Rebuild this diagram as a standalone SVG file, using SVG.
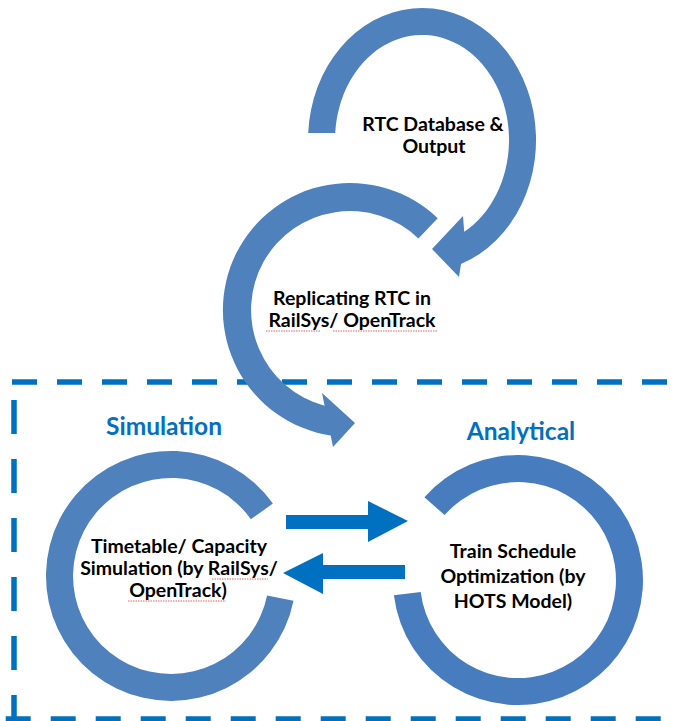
<svg xmlns="http://www.w3.org/2000/svg" width="676" height="721" viewBox="0 0 676 721">
  <style>
    .ring { fill: #4F81BD; }
    .ring-r { fill: #477DBE; }
    .txt { font-family: "Lato", "Liberation Sans", sans-serif; font-weight: bold; font-size: 19.5px; fill: #000; text-anchor: middle; }
    .lbl { font-family: "Lato", "Liberation Sans", sans-serif; font-weight: bold; font-size: 24.5px; fill: #0070C0; text-anchor: middle; }
    .flow { fill: #0070C0; }
    .frame { stroke: #0070C0; stroke-width: 5.5; fill: none; }
    .spell { stroke: #E46464; stroke-width: 1.2; stroke-dasharray: 1.5 1; fill: none; }
  </style>

  <!-- dashed boundary around the simulation / analytical loop -->
  <g id="boundary">
    <line class="frame" x1="12" y1="382" x2="676" y2="382" stroke-dasharray="25 20"/>
    <line class="frame" x1="5.7" y1="719" x2="676" y2="719" stroke-dasharray="25 20"/>
    <line class="frame" x1="14" y1="400" x2="14" y2="721" stroke-dasharray="34 25"/>
  </g>

  <!-- RTC Database & Output -->
  <g id="node-rtc-database">
    <path class="ring" d="M308.2,133 A114,132 0 1 1 461,264 L459,277 L432,249 L463,216 L464.2,231.8 A87,105 0 1 0 335.2,133 Z"/>
    <text class="txt" x="433" y="131">RTC Database &amp;</text>
    <text class="txt" x="434" y="153">Output</text>
  </g>

  <!-- Replicating RTC in RailSys / OpenTrack -->
  <g id="node-replicating">
    <path class="ring" d="M437.7,218.2 A127,127 0 1 0 330.7,435.5 L333,447 L355,423 L322,393 L324.6,405.7 A99,99 0 1 1 418.4,238.4 Z"/>
    <text class="txt" x="352" y="305">Replicating RTC in</text>
    <text class="txt" x="352" y="327">RailSys/ OpenTrack</text>
    <line class="spell" x1="266" y1="331" x2="320" y2="331"/>
    <line class="spell" x1="333" y1="331" x2="437" y2="331"/>
  </g>

  <!-- Simulation loop -->
  <g id="node-simulation">
    <text class="lbl" x="164" y="435">Simulation</text>
    <path class="ring" d="M293.5,600.7 A125,125 0 1 1 272.9,503.6 L250.9,519.2 A98,98 0 1 0 267.1,595.4 Z"/>
    <text class="txt" x="179" y="553">Timetable/ Capacity</text>
    <text class="txt" x="179" y="575">Simulation (by RailSys/</text>
    <text class="txt" x="178" y="597">OpenTrack)</text>
    <line class="spell" x1="212" y1="579" x2="268" y2="579"/>
    <line class="spell" x1="128" y1="601" x2="226" y2="601"/>
  </g>

  <!-- Analytical loop -->
  <g id="node-analytical">
    <text class="lbl" x="521" y="440">Analytical</text>
    <path class="ring-r" d="M424.4,497.2 A125,125 0 1 1 393.9,595.2 L420.7,591.9 A98,98 0 1 0 444.6,515.1 Z"/>
    <text class="txt" x="513" y="558">Train Schedule</text>
    <text class="txt" x="513" y="583">Optimization (by</text>
    <text class="txt" x="513" y="608">HOTS Model)</text>
  </g>

  <!-- exchange between simulation and optimisation -->
  <g id="connectors">
    <path class="flow" d="M286,515 L368,515 L368,501 L408,521 L368,542 L368,529 L286,529 Z"/>
    <path class="flow" d="M405,565 L323,565 L323,553 L283,573 L323,594 L323,579 L405,579 Z"/>
  </g>
</svg>
